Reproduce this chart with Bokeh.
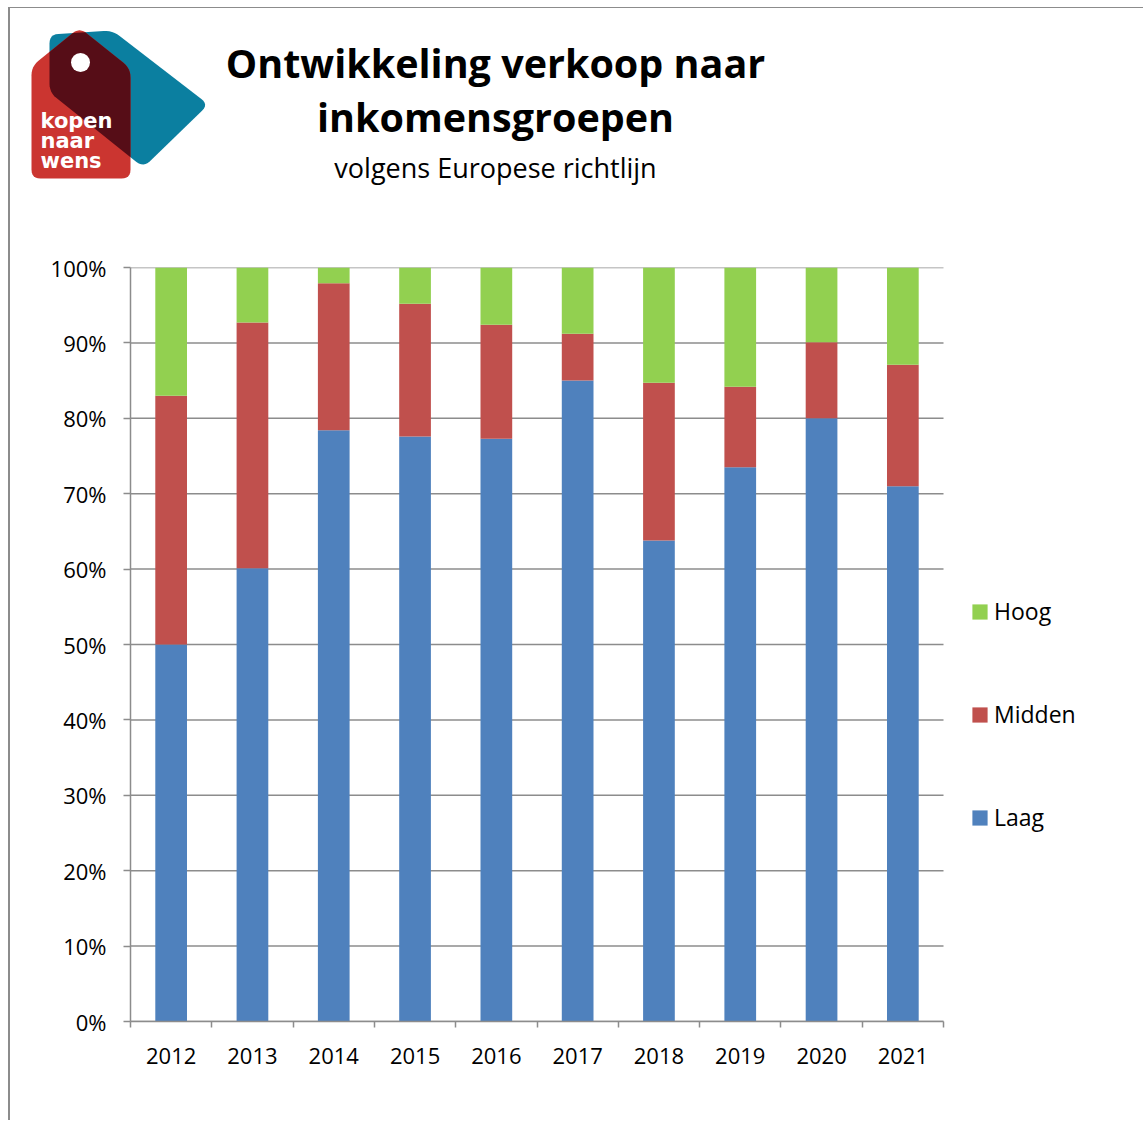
from bokeh.plotting import figure
from bokeh.models import (ColumnDataSource, Range1d, FixedTicker, PrintfTickFormatter,
                          Legend, LegendItem)
from bokeh.embed import file_html
from bokeh.resources import INLINE
from bokeh.core.properties import value

# ---------------- data ----------------
years = ["2012", "2013", "2014", "2015", "2016", "2017", "2018", "2019", "2020", "2021"]
laag = [50.0, 60.1, 78.4, 77.6, 77.3, 85.0, 63.8, 73.5, 80.0, 71.0]
midden = [33.0, 32.6, 19.5, 17.6, 15.1, 6.2, 20.9, 10.7, 10.1, 16.1]
hoog = [17.0, 7.3, 2.1, 4.8, 7.6, 8.8, 15.3, 15.8, 9.9, 12.9]
series = ["Laag", "Midden", "Hoog"]
colors = ["#4F81BD", "#C0504D", "#92D050"]
y_ticks = list(range(0, 101, 10))

title_lines = ["Ontwikkeling verkoop naar", "inkomensgroepen"]
subtitle = "volgens Europese richtlijn"

GRAY = "#8c8c8c"
FONT = "Open Sans"

# ---------------- header figure (logo + title) ----------------
W = 1135
TOP_H = 240
OX, OY = 10, 8  # page offset of the header figure

top = figure(width=W, height=TOP_H, x_range=Range1d(0, W), y_range=Range1d(TOP_H, 0),
             output_backend="svg", toolbar_location=None, min_border=0,
             x_axis_location=None, y_axis_location=None,
             styles={"margin-left": "8px", "margin-top": "7px",
                     "border-left": "2px solid #8c8c8c", "border-top": "1px solid #8c8c8c"})
top.grid.visible = False
top.outline_line_color = None
top.background_fill_color = "white"
top.border_fill_color = "white"


def rounded(pts, r, n=6):
    out = []
    m = len(pts)
    for i in range(m):
        px, py = pts[i - 1]
        vx, vy = pts[i]
        nx, ny = pts[(i + 1) % m]
        d1 = ((px - vx) ** 2 + (py - vy) ** 2) ** 0.5
        d2 = ((nx - vx) ** 2 + (ny - vy) ** 2) ** 0.5
        ax, ay = vx + r * (px - vx) / d1, vy + r * (py - vy) / d1
        bx, by = vx + r * (nx - vx) / d2, vy + r * (ny - vy) / d2
        for k in range(n + 1):
            t = k / n
            x = (1 - t) ** 2 * ax + 2 * (1 - t) * t * vx + t ** 2 * bx
            y = (1 - t) ** 2 * ay + 2 * (1 - t) * t * vy + t ** 2 * by
            out.append((x, y))
    return out


def area(poly):
    s = 0
    for i in range(len(poly)):
        x1, y1 = poly[i - 1]
        x2, y2 = poly[i]
        s += x1 * y2 - x2 * y1
    return s / 2


def clip(subject, clipper):
    sign = 1 if area(clipper) > 0 else -1

    def inside(p, a, b):
        return sign * ((b[0] - a[0]) * (p[1] - a[1]) - (b[1] - a[1]) * (p[0] - a[0])) >= 0

    def inter(p1, p2, a, b):
        x1, y1 = p1; x2, y2 = p2; x3, y3 = a; x4, y4 = b
        den = (x1 - x2) * (y3 - y4) - (y1 - y2) * (x3 - x4)
        t = ((x1 - x3) * (y3 - y4) - (y1 - y3) * (x3 - x4)) / den
        return (x1 + t * (x2 - x1), y1 + t * (y2 - y1))

    out = subject
    for i in range(len(clipper)):
        a = clipper[i - 1]
        b = clipper[i]
        inp = out
        out = []
        if not inp:
            break
        s = inp[-1]
        for e in inp:
            if inside(e, a, b):
                if not inside(s, a, b):
                    out.append(inter(s, e, a, b))
                out.append(e)
            elif inside(s, a, b):
                out.append(inter(s, e, a, b))
            s = e
    return out


red_tag = rounded([(31 - OX, 178 - OY), (31 - OX, 66 - OY), (79 - OX, 27 - OY),
                   (130 - OX, 68 - OY), (130 - OX, 178 - OY)], 9)
blue_tag = rounded([(49 - OX, 34 - OY), (112 - OX, 30 - OY), (208 - OX, 104 - OY),
                    (143 - OX, 167 - OY), (49 - OX, 92 - OY)], 9)
overlap = clip(red_tag, blue_tag)

top.patch([p[0] for p in blue_tag], [p[1] for p in blue_tag], fill_color="#0B7FA0", line_color=None)
top.patch([p[0] for p in red_tag], [p[1] for p in red_tag], fill_color="#CB3530", line_color=None)
top.patch([p[0] for p in overlap], [p[1] for p in overlap], fill_color="#560D17", line_color=None)
top.circle(x=[80 - OX], y=[62 - OY], radius=9.5, fill_color="white", line_color=None)


def base(y, size):
    # compensate the renderer's baseline offset
    return y - OY - 0.37 * size


top.text(x=[40 - OX] * 3, y=[base(128, 21), base(148, 21), base(168, 21)],
         text=["kopen", "naar", "wens"],
         text_font=value("DejaVu Sans"), text_font_style="bold", text_font_size="21px",
         text_color="white", text_align="left", text_baseline="alphabetic")

top.text(x=[495 - OX] * 2, y=[base(77, 39.5), base(131, 39.5)], text=title_lines,
         text_font=value(FONT), text_font_style="bold", text_font_size="39.5px",
         text_color="black", text_align="center", text_baseline="alphabetic")
top.text(x=[495 - OX], y=[base(177, 27)], text=[subtitle],
         text_font=value(FONT), text_font_size="27px",
         text_color="black", text_align="center", text_baseline="alphabetic")

# ---------------- main chart ----------------
MAIN_H = 1121 - 8 - TOP_H  # 873
FRAME_L, CAT_W, FRAME_H = 120, 813, 754
n = len(years)
xs = list(range(n))
frame_w = W - FRAME_L
x_end = -0.5 + n * frame_w / CAT_W
source = ColumnDataSource(data=dict(x=xs, Laag=laag, Midden=midden, Hoog=hoog))

p = figure(width=W, height=MAIN_H, x_range=Range1d(-0.5, x_end), y_range=Range1d(0, 100),
           output_backend="svg", toolbar_location=None,
           min_border_left=FRAME_L, min_border_right=0, min_border_top=20,
           min_border_bottom=MAIN_H - 20 - FRAME_H,
           styles={"margin-left": "8px", "border-left": "2px solid #8c8c8c"})
p.outline_line_color = None
p.background_fill_color = "white"
p.border_fill_color = "white"

# gridlines limited to the category area
p.segment(x0=[-0.5] * len(y_ticks), x1=[n - 0.5] * len(y_ticks), y0=y_ticks, y1=y_ticks,
          line_color=GRAY, line_width=1.5)

renderers = p.vbar_stack(series, x="x", width=0.39, color=colors, line_color=None, source=source)

# y axis
p.yaxis.ticker = FixedTicker(ticks=y_ticks)
p.yaxis.formatter = PrintfTickFormatter(format="%d%%")
p.yaxis.axis_line_color = GRAY
p.yaxis.axis_line_width = 1.5
p.yaxis.major_tick_line_color = GRAY
p.yaxis.major_tick_line_width = 1.5
p.yaxis.major_tick_out = 7
p.yaxis.major_tick_in = 0
p.yaxis.minor_tick_line_color = None
p.yaxis.major_label_standoff = 17
p.yaxis.major_label_text_font = FONT
p.yaxis.major_label_text_font_size = "22px"
p.yaxis.major_label_text_color = "black"

# x axis
p.xaxis.bounds = (-0.5, n - 0.5)
p.xaxis.ticker = FixedTicker(ticks=xs, minor_ticks=[i - 0.5 for i in range(n + 1)])
p.xaxis.major_label_overrides = {i: y for i, y in zip(xs, years)}
p.xaxis.axis_line_color = GRAY
p.xaxis.axis_line_width = 1.5
p.xaxis.major_tick_line_color = None
p.xaxis.major_tick_out = 0
p.xaxis.major_tick_in = 0
p.xaxis.minor_tick_line_color = GRAY
p.xaxis.minor_tick_line_width = 1.5
p.xaxis.minor_tick_out = 6
p.xaxis.minor_tick_in = 0
p.xaxis.major_label_standoff = 20
p.xaxis.major_label_text_font = FONT
p.xaxis.major_label_text_font_size = "22px"
p.xaxis.major_label_text_color = "black"

p.grid.visible = False

legend = Legend(items=[LegendItem(label="Hoog", renderers=[renderers[2]]),
                       LegendItem(label="Midden", renderers=[renderers[1]]),
                       LegendItem(label="Laag", renderers=[renderers[0]])],
                location=(840, 188), orientation="vertical",
                glyph_width=19, glyph_height=19, label_height=30, spacing=71,
                label_standoff=5, padding=0, margin=0,
                border_line_color=None, background_fill_alpha=0,
                label_text_font=FONT, label_text_font_size="23px", label_text_color="black")
p.add_layout(legend)

open("out.html", "w").write(file_html([top, p], INLINE))
